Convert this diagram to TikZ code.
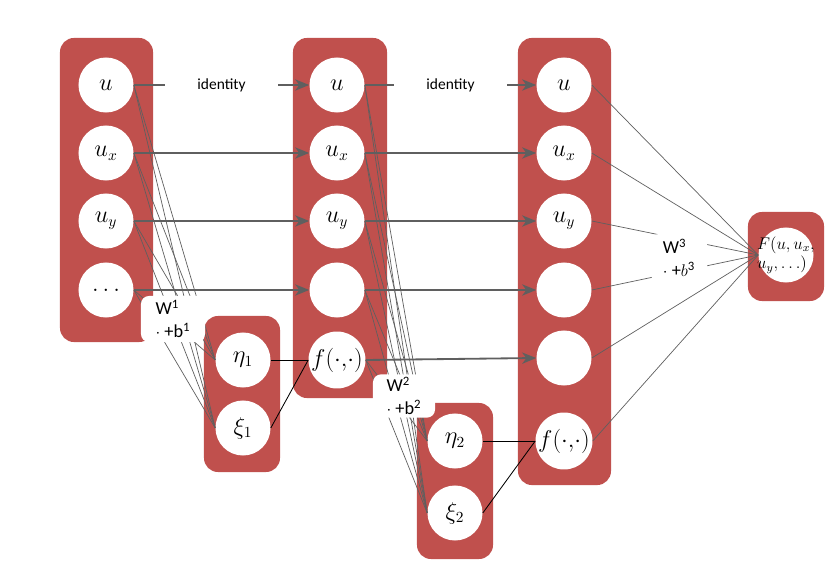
\documentclass[tikz,border=0pt]{standalone}
\usepackage{fontspec}
\setsansfont{Carlito}
\usetikzlibrary{arrows.meta}
\definecolor{layerred}{RGB}{192,80,77}
\definecolor{wiregray}{RGB}{95,95,95}

\tikzset{
	layer/.style={fill=layerred, rounded corners=0.35cm, inner sep=0pt},
	neuron/.style={circle, fill=white, minimum size=1.375cm, inner sep=0pt, font=\fontsize{16}{18}\selectfont},
	pass/.style={draw=wiregray, line width=1.3pt, -{Stealth[length=10pt,width=8pt,inset=3pt]}},
	weight/.style={draw=wiregray, line width=0.5pt},
	link/.style={draw=black, line width=0.6pt},
	wlabel/.style={fill=white, rounded corners=0.2cm, align=left, inner sep=2pt, font=\sffamily\fontsize{13}{16}\selectfont},
	idlabel/.style={fill=white, minimum width=2.8cm, font=\sffamily\fontsize{11}{13}\selectfont}
}

\begin{document}
\begin{tikzpicture}[x=0.025cm, y=-0.025cm]
	\useasboundingbox (0,0) rectangle (837,577);

	% Define layer boxes
	\node[layer, minimum width=2.325cm, minimum height=7.6cm] (L1) at (106.5,190) {};
	\node[layer, minimum width=2.35cm, minimum height=9cm] (L2) at (340,218) {};
	\node[layer, minimum width=2.325cm, minimum height=11.175cm] (L3) at (564.5,261.5) {};
	\node[layer, minimum width=1.9cm, minimum height=3.9cm] (E1) at (242,394) {};
	\node[layer, minimum width=1.9cm, minimum height=3.9cm] (E2) at (455,481) {};
	\node[layer, minimum width=1.9cm, minimum height=2.225cm] (LF) at (786,256.5) {};

	% Define neurons
	\node[neuron] (u1) at (106,85) {$u$};
	\node[neuron] (ux1) at (106,153) {$u_x$};
	\node[neuron] (uy1) at (106,221) {$u_y$};
	\node[neuron] (dots1) at (106,290) {$\ldots$};

	\node[neuron] (eta1) at (243,360) {$\eta_1$};
	\node[neuron] (xi1) at (243,428) {$\xi_1$};

	\node[neuron] (u2) at (337,85) {$u$};
	\node[neuron] (ux2) at (337,153) {$u_x$};
	\node[neuron] (uy2) at (337,221) {$u_y$};
	\node[neuron] (v2) at (337,290) {};
	\node[neuron] (f2) at (337,360) {$f(\cdot,\!\cdot)$};

	\node[neuron] (eta2) at (455,441) {$\eta_2$};
	\node[neuron] (xi2) at (455,513) {$\xi_2$};

	\node[neuron] (u3) at (564,85) {$u$};
	\node[neuron] (ux3) at (564,153) {$u_x$};
	\node[neuron] (uy3) at (564,221) {$u_y$};
	\node[neuron] (v3) at (564,290) {};
	\node[neuron] (w3) at (564,358) {};
	\node[neuron] (f3) at (564,441) {$f(\cdot,\!\cdot)$};

	\node[neuron] (out) at (786,255) {};
	\node[align=left, inner sep=0pt, font=\fontsize{12}{14}\selectfont] (Ftext) at (out.center) {$F(u,u_x,$\\$u_y,\dots)$};

	% Draw weighted connections
	\foreach \s in {u1,ux1,uy1,dots1}
		\foreach \t in {eta1,xi1}
			\draw[weight] (\s.east) -- (\t.west);
	\foreach \s in {u2,ux2,uy2,v2,f2}
		\foreach \t in {eta2,xi2}
			\draw[weight] (\s.east) -- (\t.west);
	\foreach \s in {u3,ux3,uy3,v3,w3,f3}
		\draw[weight] (\s.east) -- (out.west);

	% Draw pass-through arrows
	\draw[pass] (u1.east) -- (u2.west) node[midway, idlabel] {identity};
	\draw[pass] (ux1.east) -- (ux2.west);
	\draw[pass] (uy1.east) -- (uy2.west);
	\draw[pass] (dots1.east) -- (v2.west);
	\draw[pass] (u2.east) -- (u3.west) node[midway, idlabel] {identity};
	\draw[pass] (ux2.east) -- (ux3.west);
	\draw[pass] (uy2.east) -- (uy3.west);
	\draw[pass] (v2.east) -- (v3.west);
	\draw[pass] (f2.east) -- (w3.west);

	% Draw links into f
	\draw[link] (eta1.east) -- (f2.west);
	\draw[link] (xi1.east) -- (f2.west);
	\draw[link] (eta2.east) -- (f3.west);
	\draw[link] (xi2.east) -- (f3.west);

	% Weight labels
	\node[wlabel, minimum width=1.6cm, minimum height=1.15cm] (W1) at (173,319) {W\textsuperscript{1}\\$\cdot$ +b\textsuperscript{1}};
	\node[wlabel, minimum width=1.55cm, minimum height=1.08cm] (W2) at (404,396) {W\textsuperscript{2}\\$\cdot$ +b\textsuperscript{2}};
	\node[wlabel, minimum width=1.4cm, minimum height=1.2cm] (W3) at (679,258) {W\textsuperscript{3}\\$\cdot$ +$b$\textsuperscript{3}};

\end{tikzpicture}
\end{document}
